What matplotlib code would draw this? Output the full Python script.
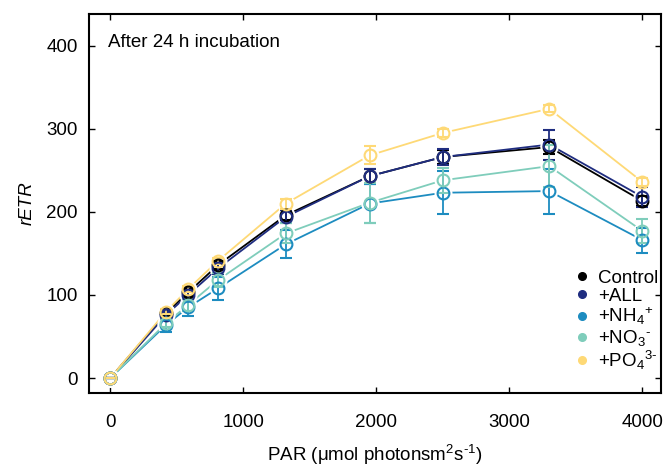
import numpy as np
import matplotlib
matplotlib.use("Agg")
import matplotlib.pyplot as plt
from matplotlib.lines import Line2D

plt.rcParams["font.family"] = ["Liberation Sans", "DejaVu Sans"]
plt.rcParams["mathtext.fontset"] = "custom"
plt.rcParams["mathtext.rm"] = "Liberation Sans"
plt.rcParams["mathtext.it"] = "Liberation Sans:italic"
plt.rcParams["mathtext.bf"] = "Liberation Sans:bold"

# PAR levels
par = [0, 420, 585, 810, 1320, 1950, 2500, 3300, 4000]

# rETR means and errors per treatment
control = [0, 78, 103, 136, 196, 243, 266, 278, 213]
control_err = [0, 3, 4, 5, 6, 8, 9, 8, 6]
all_add = [0, 76, 100, 132, 194, 243, 266, 281, 218]
all_err = [0, 4, 5, 7, 8, 9, 10, 18, 12]
nh4 = [0, 64, 85, 108, 161, 210, 223, 225, 166]
nh4_err = [0, 8, 10, 14, 17, 24, 26, 27, 15]
no3 = [0, 66, 88, 118, 174, 211, 238, 255, 177]
no3_err = [0, 5, 7, 9, 12, 24, 15, 25, 14]
po4 = [0, 80, 107, 141, 210, 268, 295, 324, 236]
po4_err = [0, 3, 4, 4, 6, 11, 5, 4, 5]

labels = ["Control", "+ALL", "+NH$_4$$^{+}$", r"+NO$_3$$^{\text{-}}$",
          r"+PO$_4$$^{3\text{-}}$"]
colors = ["#000000", "#1f2d80", "#1d8cc0", "#7fcdbb", "#fed976"]
series = [(control, control_err), (all_add, all_err), (nh4, nh4_err),
          (no3, no3_err), (po4, po4_err)]

fs = 13.5

fig = plt.figure(figsize=(6.64, 4.69), dpi=100)
ax = fig.add_axes([0.134, 0.162, 0.8615, 0.808])

for (y, e), c in zip(series, colors):
    ax.plot(par, y, color=c, lw=1.3, zorder=1)
    # white discs to leave a gap between line and marker
    ax.plot(par, y, ls="none", marker="o", ms=13, mfc="white", mec="none", zorder=2)

for (y, e), c in zip(series, colors):
    ax.errorbar(par, y, yerr=e, fmt="o", ms=8.5, mfc="none", mec=c, mew=1.5,
                ecolor=c, elinewidth=1.3, capsize=4, capthick=1.3, zorder=3)

ax.set_xlim(-160, 4140)
ax.set_ylim(-18, 438)
ax.set_xticks([0, 1000, 2000, 3000, 4000])
ax.set_yticks([0, 100, 200, 300, 400])
ax.tick_params(direction="in", length=4, width=1, labelsize=fs,
               top=True, right=True)
ax.tick_params(axis="x", pad=15)
ax.tick_params(axis="y", pad=8)
for s in ax.spines.values():
    s.set_linewidth(1.5)

ax.set_xlabel("PAR (μmol photonsm$^{2}$s$^{\\text{-}1}$)", fontsize=fs, labelpad=9)
ax.set_ylabel("rETR", fontsize=fs, style="italic", labelpad=8)
ax.text(0.033, 0.925, "After 24 h incubation", transform=ax.transAxes,
        fontsize=fs, va="center", ha="left")

handles = [Line2D([], [], ls="none", marker="o", ms=5.5, color=c) for c in colors]
ax.legend(handles, labels, loc="upper left", bbox_to_anchor=(0.85, 0.325),
          frameon=False, fontsize=fs, handlelength=0.7, handletextpad=0.5,
          labelspacing=0.04, borderpad=0, borderaxespad=0)

fig.savefig("out.png", dpi=100)
